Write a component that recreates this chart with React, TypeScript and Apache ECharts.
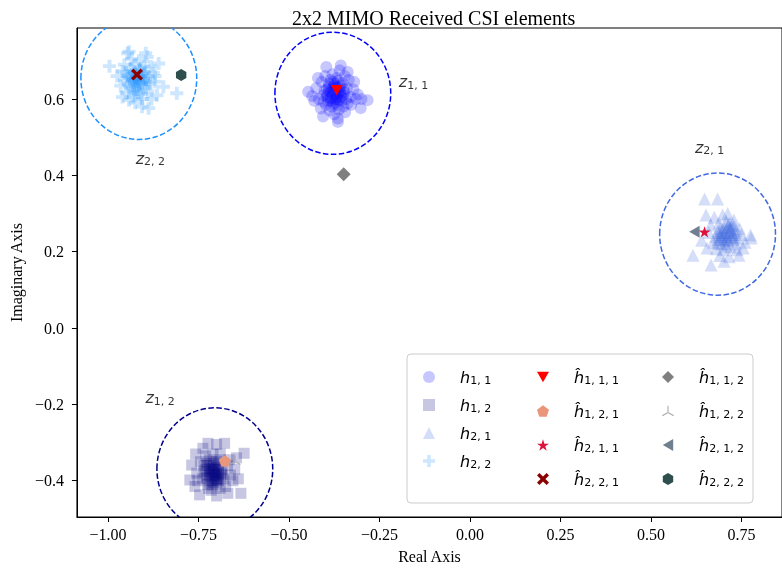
import React, { useEffect, useRef } from 'react';
import * as echarts from 'echarts';

// ---------- axes ----------
const xRange = [-1.086, 0.862];
const yRange = [-0.495, 0.786];
const xTicks = [-1, -0.75, -0.5, -0.25, 0, 0.25, 0.5, 0.75];
const yTicks = [-0.4, -0.2, 0, 0.2, 0.4, 0.6];

// ---------- received samples ----------
const h11 = [
  [-0.372, 0.615], [-0.36, 0.63], [-0.385, 0.602], [-0.35, 0.61], [-0.395, 0.625], [-0.365, 0.648], [-0.34, 0.628],
  [-0.378, 0.588], [-0.405, 0.61], [-0.355, 0.595], [-0.39, 0.64], [-0.33, 0.605], [-0.418, 0.6], [-0.362, 0.572],
  [-0.346, 0.66], [-0.398, 0.584], [-0.38, 0.665], [-0.322, 0.625], [-0.425, 0.628], [-0.37, 0.63], [-0.384, 0.618],
  [-0.358, 0.612], [-0.374, 0.598], [-0.392, 0.596], [-0.338, 0.588], [-0.41, 0.645], [-0.352, 0.642], [-0.366, 0.585],
  [-0.4, 0.66], [-0.397, 0.684], [-0.338, 0.671], [-0.283, 0.597], [-0.365, 0.549], [-0.406, 0.554], [-0.447, 0.619],
  [-0.302, 0.576], [-0.32, 0.645], [-0.43, 0.595], [-0.315, 0.6], [-0.388, 0.57], [-0.345, 0.565], [-0.375, 0.56],
  [-0.412, 0.575], [-0.436, 0.608], [-0.31, 0.612], [-0.328, 0.585], [-0.36, 0.675], [-0.385, 0.65], [-0.35, 0.625],
  [-0.368, 0.605], [-0.376, 0.622], [-0.395, 0.612], [-0.342, 0.6], [-0.42, 0.655], [-0.3, 0.6], [-0.365, 0.54],
  [-0.357, 0.688], [-0.335, 0.65], [-0.375, 0.64], [-0.405, 0.593],
  [-0.38, 0.61], [-0.37, 0.6], [-0.39, 0.62], [-0.36, 0.62], [-0.375, 0.635], [-0.385, 0.595], [-0.355, 0.605],
  [-0.365, 0.615], [-0.395, 0.605], [-0.38, 0.628], [-0.362, 0.598], [-0.37, 0.59], [-0.348, 0.618], [-0.39, 0.632],
  [-0.378, 0.645], [-0.402, 0.622], [-0.358, 0.635], [-0.382, 0.58], [-0.35, 0.58], [-0.368, 0.655],
];
const h12 = [
  [-0.71, -0.375], [-0.7, -0.365], [-0.72, -0.385], [-0.695, -0.385], [-0.725, -0.36], [-0.705, -0.395], [-0.715, -0.35],
  [-0.685, -0.37], [-0.735, -0.375], [-0.7, -0.41], [-0.69, -0.345], [-0.74, -0.395], [-0.725, -0.41], [-0.68, -0.395],
  [-0.745, -0.35], [-0.71, -0.33], [-0.67, -0.36], [-0.755, -0.38], [-0.69, -0.42], [-0.73, -0.335], [-0.624, -0.328],
  [-0.633, -0.433], [-0.747, -0.437], [-0.769, -0.359], [-0.724, -0.302], [-0.678, -0.302], [-0.669, -0.433],
  [-0.774, -0.398], [-0.65, -0.37], [-0.655, -0.4], [-0.7, -0.305], [-0.76, -0.415], [-0.715, -0.425], [-0.7, -0.44],
  [-0.645, -0.34], [-0.662, -0.385], [-0.758, -0.33], [-0.738, -0.315], [-0.705, -0.38], [-0.718, -0.368],
  [-0.695, -0.358], [-0.728, -0.392], [-0.688, -0.38], [-0.712, -0.4], [-0.735, -0.36], [-0.675, -0.415],
  [-0.64, -0.395], [-0.752, -0.4], [-0.69, -0.33], [-0.72, -0.345], [-0.708, -0.355], [-0.698, -0.398],
  [-0.722, -0.42], [-0.665, -0.345],
  [-0.71, -0.38], [-0.705, -0.37], [-0.715, -0.39], [-0.7, -0.38], [-0.72, -0.375], [-0.695, -0.37], [-0.71, -0.36],
  [-0.705, -0.385], [-0.725, -0.385], [-0.715, -0.37], [-0.69, -0.39], [-0.7, -0.395], [-0.72, -0.4], [-0.73, -0.37],
  [-0.708, -0.405], [-0.695, -0.4], [-0.712, -0.412], [-0.685, -0.385], [-0.728, -0.355], [-0.7, -0.35],
];
const h21 = [
  [0.7, 0.245], [0.712, 0.255], [0.69, 0.235], [0.722, 0.24], [0.705, 0.265], [0.685, 0.255], [0.73, 0.25],
  [0.695, 0.22], [0.715, 0.228], [0.678, 0.24], [0.74, 0.235], [0.708, 0.28], [0.725, 0.27], [0.688, 0.275],
  [0.672, 0.225], [0.745, 0.26], [0.7, 0.205], [0.72, 0.212], [0.66, 0.25], [0.735, 0.22], [0.648, 0.338],
  [0.684, 0.338], [0.652, 0.296], [0.775, 0.244], [0.616, 0.191], [0.666, 0.165], [0.716, 0.187], [0.743, 0.191],
  [0.729, 0.283], [0.698, 0.296], [0.777, 0.236], [0.69, 0.19], [0.655, 0.21], [0.76, 0.225], [0.75, 0.245],
  [0.71, 0.24], [0.696, 0.25], [0.718, 0.262], [0.68, 0.208], [0.665, 0.27], [0.738, 0.205], [0.705, 0.23],
  [0.727, 0.232], [0.692, 0.262], [0.675, 0.29], [0.755, 0.21], [0.712, 0.3], [0.683, 0.222], [0.702, 0.175],
  [0.73, 0.268], [0.64, 0.23], [0.722, 0.25], [0.708, 0.215], [0.688, 0.245], [0.715, 0.272],
  [0.705, 0.25], [0.715, 0.245], [0.695, 0.24], [0.72, 0.258], [0.71, 0.235], [0.7, 0.26], [0.725, 0.245],
  [0.69, 0.25], [0.705, 0.222], [0.73, 0.238], [0.718, 0.275], [0.698, 0.232], [0.712, 0.265], [0.735, 0.255],
  [0.685, 0.232],
];
const h22 = [
  [-0.92, 0.655], [-0.905, 0.665], [-0.935, 0.645], [-0.912, 0.64], [-0.928, 0.672], [-0.895, 0.65], [-0.945, 0.66],
  [-0.918, 0.625], [-0.9, 0.685], [-0.94, 0.63], [-0.885, 0.64], [-0.955, 0.65], [-0.925, 0.69], [-0.908, 0.612],
  [-0.875, 0.668], [-0.96, 0.672], [-0.93, 0.605], [-0.89, 0.62], [-0.95, 0.615], [-0.915, 0.7], [-0.996, 0.686],
  [-0.81, 0.615], [-0.847, 0.632], [-0.888, 0.576], [-0.906, 0.58], [-0.942, 0.597], [-0.946, 0.72], [-0.896, 0.72],
  [-0.86, 0.693], [-0.942, 0.724], [-0.892, 0.71], [-0.87, 0.645], [-0.965, 0.635], [-0.932, 0.66], [-0.902, 0.655],
  [-0.922, 0.645], [-0.938, 0.68], [-0.88, 0.6], [-0.925, 0.59], [-0.96, 0.605], [-0.865, 0.61], [-0.975, 0.66],
  [-0.912, 0.675], [-0.895, 0.63], [-0.945, 0.64], [-0.918, 0.665], [-0.93, 0.62], [-0.905, 0.6], [-0.882, 0.685],
  [-0.955, 0.69], [-0.935, 0.705], [-0.87, 0.66], [-0.915, 0.65], [-0.9, 0.67], [-0.928, 0.635],
  [-0.92, 0.66], [-0.915, 0.645], [-0.925, 0.655], [-0.91, 0.66], [-0.93, 0.65], [-0.905, 0.645], [-0.935, 0.665],
  [-0.92, 0.635], [-0.91, 0.68], [-0.94, 0.655], [-0.898, 0.64], [-0.925, 0.625], [-0.95, 0.67], [-0.89, 0.66],
  [-0.915, 0.615],
];

// ---------- estimates ----------
const est1Names = ['ĥ111', 'ĥ121', 'ĥ211', 'ĥ221'];
const est1Subs = ['1, 1, 1', '1, 2, 1', '2, 1, 1', '2, 2, 1'];
const est1Points = [[-0.368, 0.623], [-0.677, -0.348], [0.648, 0.252], [-0.92, 0.664]];
const est2Names = ['ĥ112', 'ĥ122', 'ĥ212', 'ĥ222'];
const est2Subs = ['1, 1, 2', '1, 2, 2', '2, 1, 2', '2, 2, 2'];
const est2Points = [[-0.349, 0.403], [-0.649, -0.346], [0.62, 0.252], [-0.798, 0.663]];

// ---------- decision circles ----------
const zSubs = ['1, 1', '1, 2', '2, 1', '2, 2'];
const zCircles = [[-0.379, 0.615, 0.16], [-0.705, -0.369, 0.16], [0.684, 0.246, 0.16], [-0.915, 0.654, 0.16]];
const zLabelPos = [[-0.156, 0.645], [-0.856, -0.183], [0.662, 0.474], [-0.883, 0.445]];

const hNames = ['h11', 'h12', 'h21', 'h22'];
const hSubs = ['1, 1', '1, 2', '2, 1', '2, 2'];

// ---------- styles ----------
const hColors = ['#0000ff', '#000080', '#4169e1', '#1e90ff'];
const hSizes = [12, 11, 13, 13];
const zColors = ['#0000ff', '#00008b', '#4169e1', '#1e90ff'];
const est1Colors = ['#ff0000', '#e9967a', '#dc143c', '#8b0000'];
const est2Colors = ['#808080', '#a9a9a9', '#708090', '#2f4f4f'];

const P_PLUS = 'path://M3.5,0H6.5V3.5H10V6.5H6.5V10H3.5V6.5H0V3.5H3.5Z';
const P_X = 'path://M0,2L2,0L5,3L8,0L10,2L7,5L10,8L8,10L5,7L2,10L0,8L3,5Z';
const P_TDOWN = 'path://M0,0L10,0L5,8.66Z';
const P_TLEFT = 'path://M0,5L8.66,0L8.66,10Z';
const P_PENT = 'path://M5,0L9.755,3.455L7.939,9.045L2.061,9.045L0.245,3.455Z';
const P_STAR = 'path://M5,0L6.123,3.455L9.755,3.455L6.816,5.59L7.939,9.045L5,6.91L2.061,9.045L3.184,5.59L0.245,3.455L3.877,3.455Z';
const P_HEX = 'path://M5,0L9.33,2.5L9.33,7.5L5,10L0.67,7.5L0.67,2.5Z';
const P_TRI = 'path://M4.6,0L5.4,0L5.4,5L4.6,5ZM5.2,5.346L0.87,7.846L0.47,7.154L4.8,4.654ZM4.8,5.346L9.13,7.846L9.53,7.154L5.2,4.654Z';

const hSymbols = ['circle', 'rect', 'triangle', P_PLUS];
const est1Symbols = [P_TDOWN, P_PENT, P_STAR, P_X];
const est2Symbols = ['diamond', P_TRI, P_TLEFT, P_HEX];
const est1Sizes = [12, 12, 12, 12];
const est2Sizes = [14, 11, 12, 12];

const mathRich = {
  g: { width: 20, fontSize: 16, lineHeight: 20 },
  m: { fontFamily: 'DejaVu Sans', fontStyle: 'italic', fontSize: 16, lineHeight: 20, color: '#000' },
  s: { fontFamily: 'DejaVu Sans', fontSize: 11, lineHeight: 20, padding: [7, 0, 0, 0], color: '#000' },
};

const serif = 'Liberation Serif';
const fmtMinus = (v: number, d: number) => (v < 0 ? '\u2212' : '') + Math.abs(v).toFixed(d);

export default function App() {
  const ref = useRef<HTMLDivElement>(null);
  useEffect(() => {
    const chart = echarts.init(ref.current!, null, { renderer: 'svg' });

    const legendLabel = (name: string) => {
      let i = hNames.indexOf(name);
      if (i >= 0) return `{g| }{m|h}{s|${hSubs[i]}}`;
      i = est1Names.indexOf(name);
      if (i >= 0) return `{g| }{m|ĥ}{s|${est1Subs[i]}}`;
      i = est2Names.indexOf(name);
      if (i >= 0) return `{g| }{m|ĥ}{s|${est2Subs[i]}}`;
      return name;
    };

    const hData = [h11, h12, h21, h22];
    const series: any[] = [];
    hNames.forEach((n, i) => {
      series.push({
        type: 'scatter', name: n, data: hData[i],
        symbol: hSymbols[i], symbolSize: hSizes[i], symbolKeepAspect: true,
        itemStyle: { color: hColors[i], opacity: 0.22 },
        emphasis: { disabled: true }, z: 2,
      });
    });
    series.push({
      type: 'custom', name: 'circles', data: zCircles, clip: true, silent: true, z: 3,
      renderItem: (params: any, api: any) => {
        const c = api.coord([api.value(0), api.value(1)]);
        const s = api.size([api.value(2), api.value(2)]);
        return {
          type: 'ellipse',
          shape: { cx: c[0], cy: c[1], rx: s[0], ry: s[1] },
          style: { fill: 'none', stroke: zColors[params.dataIndex], lineWidth: 1.5, lineDash: [5.5, 2.4] },
        };
      },
    });
    est1Names.forEach((n, i) => {
      series.push({
        type: 'scatter', name: n, data: [est1Points[i]], symbol: est1Symbols[i], symbolSize: est1Sizes[i],
        symbolKeepAspect: true, itemStyle: { color: est1Colors[i], opacity: 1 }, emphasis: { disabled: true }, z: 4,
      });
    });
    est2Names.forEach((n, i) => {
      series.push({
        type: 'scatter', name: n, data: [est2Points[i]], symbol: est2Symbols[i], symbolSize: est2Sizes[i],
        symbolKeepAspect: true, itemStyle: { color: est2Colors[i], opacity: 1 }, emphasis: { disabled: true }, z: 4,
      });
    });
    series.push({
      type: 'scatter', name: 'zlabels', data: zLabelPos, symbolSize: 0, silent: true, z: 5,
      label: {
        show: true, position: 'inside',
        formatter: (p: any) => `{m|z}{s|${zSubs[p.dataIndex]}}`,
        rich: mathRich,
      },
    });

    const legendBase = {
      orient: 'vertical', padding: 0, itemWidth: 12, itemHeight: 12,
      selectedMode: false, formatter: legendLabel, textStyle: { color: '#000', rich: mathRich },
    };

    chart.setOption({
      animation: false,
      title: {
        text: '2x2 MIMO Received CSI elements', left: 287, top: 3,
        textStyle: { fontFamily: serif, fontSize: 20, fontWeight: 'normal', color: '#000' },
      },
      grid: { left: 76.5, top: 28, width: 715, height: 489, show: true, borderColor: '#000', borderWidth: 1, backgroundColor: 'transparent' },
      xAxis: {
        type: 'value', min: xRange[0], max: xRange[1],
        name: 'Real Axis', nameLocation: 'middle', nameGap: 31,
        nameTextStyle: { fontFamily: serif, fontSize: 16, color: '#000' },
        axisLine: { show: true, onZero: false, lineStyle: { color: '#000', width: 1 } },
        axisTick: { show: true, length: 5, lineStyle: { color: '#000' }, customValues: xTicks },
        axisLabel: { fontFamily: serif, fontSize: 16, color: '#000', margin: 9, customValues: xTicks, formatter: (v: number) => fmtMinus(v, 2) },
        splitLine: { show: false },
      },
      yAxis: {
        type: 'value', min: yRange[0], max: yRange[1],
        name: 'Imaginary Axis', nameLocation: 'middle', nameGap: 51,
        nameTextStyle: { fontFamily: serif, fontSize: 16, color: '#000' },
        axisLine: { show: true, onZero: false, lineStyle: { color: '#000', width: 1 } },
        axisTick: { show: true, length: 5, lineStyle: { color: '#000' }, customValues: yTicks },
        axisLabel: { fontFamily: serif, fontSize: 16, color: '#000', margin: 13, customValues: yTicks, formatter: (v: number) => fmtMinus(v, 1) },
        splitLine: { show: false },
      },
      legend: [
        { ...legendBase, data: hNames, left: 423, top: 368, itemGap: 10 },
        { ...legendBase, data: est1Names, left: 537, top: 368, itemGap: 16 },
        { ...legendBase, data: est2Names, left: 662, top: 368, itemGap: 16 },
      ],
      graphic: [
        {
          type: 'rect', z: 3, silent: true,
          shape: { x: 407, y: 354, width: 346, height: 149, r: 4 },
          style: { fill: 'rgba(255,255,255,0.8)', stroke: '#cccccc', lineWidth: 1 },
        },
      ],
      series,
    });
    return () => chart.dispose();
  }, []);
  return <div ref={ref} style={{ position: 'fixed', left: 0, top: 0, width: 782, height: 574 }} />;
}
